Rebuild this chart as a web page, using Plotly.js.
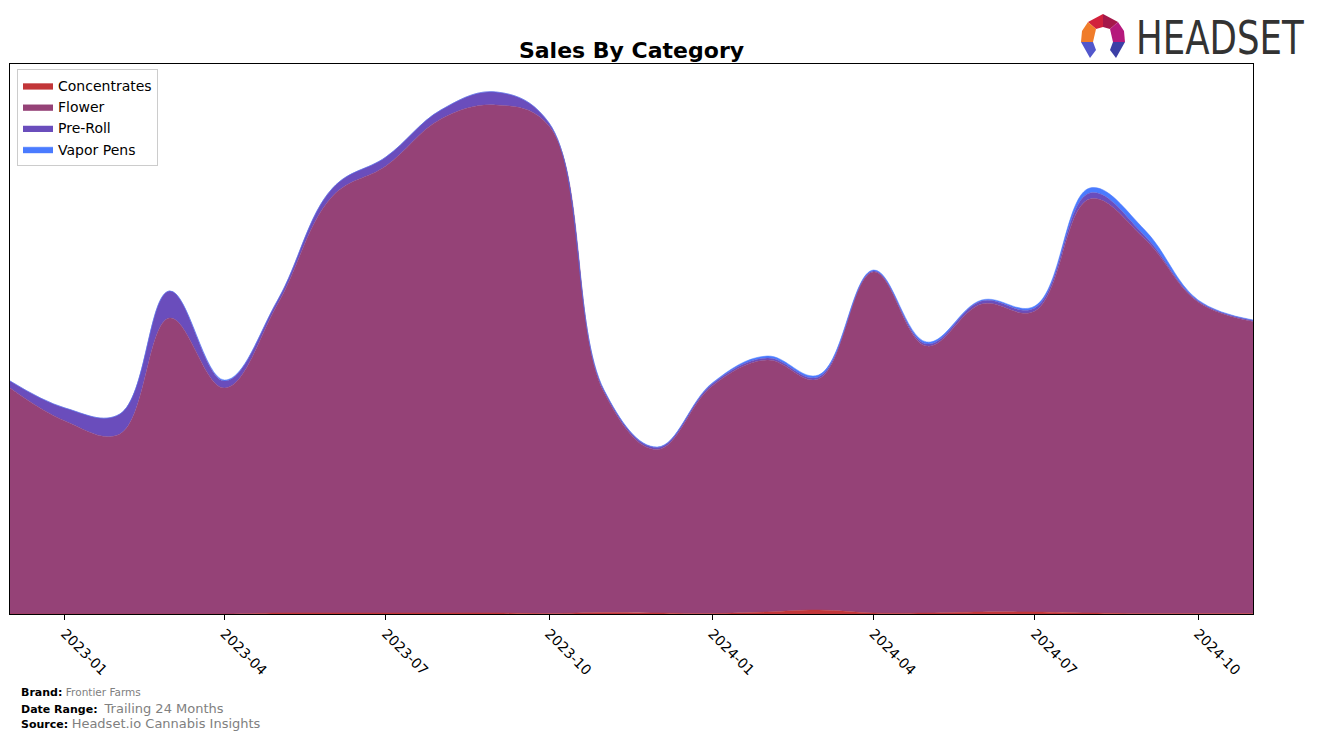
<!DOCTYPE html>
<html>
<head>
<meta charset="utf-8">
<script src="https://cdn.plot.ly/plotly-3.0.1.min.js"></script>
<style>html,body{margin:0;padding:0;background:#fff;}#chart{width:1317px;height:739px;}</style>
</head>
<body>
<div id="chart"></div>
<script>
// ---- data (monthly, arbitrary sales units) ----
const months = ['2022-12-01','2023-01-01','2023-02-01','2023-03-01','2023-04-01','2023-05-01','2023-06-01','2023-07-01','2023-08-01','2023-09-01','2023-10-01','2023-11-01','2023-12-01','2024-01-01','2024-02-01','2024-03-01','2024-04-01','2024-05-01','2024-06-01','2024-07-01','2024-08-01','2024-09-01','2024-10-01','2024-11-01'];
const concentrates = [0,0,0,0,0,1,1,1,1,1,0.5,1.5,1,0.5,2,4,1,1,2,2,1,0.5,0.5,0.5];
const flower = [226,193,180,296,226,309,417,447,494,508,487.5,220,163.5,227.5,252,231,341,267,308,301,414,374.5,311.5,292];
const preRoll = [7,13,20,27,7,4,8,9,9,13,3,2,2,2,2,2,1,2,3,3,6,3,1,1];
const vaporPens = [0,0,0,0,1,0,0,0,0,0,0,0.5,0.5,1,2,2,1,2,1,2,5,6,1,0.5];
const seriesNames = ['Concentrates','Flower','Pre-Roll','Vapor Pens'];
const tickLabels = ['2023-01','2023-04','2023-07','2023-10','2024-01','2024-04','2024-07','2024-10'];
const tickDates = ['2023-01-01','2023-04-01','2023-07-01','2023-10-01','2024-01-01','2024-04-01','2024-07-01','2024-10-01'];

const colors = ['#C23639','#954277','#6A4DBC','#4A7BFF'];
const seriesValues = [concentrates, flower, preRoll, vaporPens];

const traces = seriesValues.map((vals, i) => ({
  x: months, y: vals, name: seriesNames[i], type: 'scatter', mode: 'lines',
  stackgroup: 'one', fillcolor: colors[i],
  line: {color: colors[i], width: 0.5, shape: 'spline', smoothing: 1.1},
  hoverinfo: 'x+y+name'
}));

// helper for decorative logo placement (pixel -> paper)
const L = 10, R = 1253, T = 64, B = 614;
const px = x => (x - L) / (R - L);
const py = y => (B - y) / (B - T);
function poly(pts, color) {
  const d = pts.map((p, k) => (k ? 'L' : 'M') + px(p[0]).toFixed(5) + ',' + py(p[1]).toFixed(5)).join(' ') + ' Z';
  return {type: 'path', xref: 'paper', yref: 'paper', path: d, fillcolor: color, line: {width: 0}, layer: 'above'};
}
const shapes = [
  poly([[1088,22],[1103,14],[1103,27],[1096,29]], '#D2213C'),
  poly([[1103,14],[1118,22],[1110,29],[1103,27]], '#A5184A'),
  poly([[1088,22],[1096,29],[1093,42],[1081,42],[1082,31]], '#F07C2A'),
  poly([[1118,22],[1124,31],[1125,42],[1113,42],[1110,29]], '#B5197C'),
  poly([[1081,42],[1093,42],[1096,50],[1090,58]], '#5257CC'),
  poly([[1113,42],[1125,42],[1116,58],[1110,50]], '#3C3FA6')
];

const layout = {
  width: 1317, height: 739,
  margin: {l: L, r: 1317 - R, t: T, b: 739 - B, pad: 0},
  paper_bgcolor: '#fff', plot_bgcolor: '#fff',
  font: {family: 'DejaVu Sans', size: 13, color: '#000'},
  title: {text: '<b>Sales By Category</b>', x: 631.5 / 1317, xanchor: 'center', y: 1 - 50 / 739, yanchor: 'middle', font: {family: 'DejaVu Sans', size: 22, color: '#000'}},
  showlegend: true,
  legend: {x: px(17), y: py(69), xanchor: 'left', yanchor: 'top', bgcolor: 'rgba(255,255,255,0.9)', bordercolor: '#CCCCCC', borderwidth: 1, traceorder: 'normal', font: {family: 'DejaVu Sans', size: 14}},
  xaxis: {type: 'date', range: ['2022-12-01', '2024-11-01'], tickmode: 'array', tickvals: tickDates, ticktext: tickLabels, tickangle: 45,
    ticks: 'outside', ticklen: 5, tickcolor: '#000', showline: true, mirror: true, linecolor: '#000', linewidth: 1, showgrid: false, zeroline: false,
    tickfont: {family: 'DejaVu Sans', size: 14, color: '#000'}},
  yaxis: {range: [0, 550], showticklabels: false, ticks: '', showline: true, mirror: true, linecolor: '#000', linewidth: 1, showgrid: false, zeroline: false},
  shapes: shapes,
  annotations: [
    {xref: 'paper', yref: 'paper', x: px(19), y: py(692), xanchor: 'left', yanchor: 'middle', showarrow: false, align: 'left',
     text: '<b>Brand:</b> <span style="color:#808080;font-size:10.5px">Frontier Farms</span>', font: {family: 'DejaVu Sans', size: 11, color: '#000'}},
    {xref: 'paper', yref: 'paper', x: px(19), y: py(708), xanchor: 'left', yanchor: 'middle', showarrow: false, align: 'left',
     text: '<b>Date Range:</b>  <span style="color:#808080;font-size:13px">Trailing 24 Months</span>', font: {family: 'DejaVu Sans', size: 11, color: '#000'}},
    {xref: 'paper', yref: 'paper', x: px(19), y: py(723), xanchor: 'left', yanchor: 'middle', showarrow: false, align: 'left',
     text: '<b>Source:</b> <span style="color:#808080;font-size:13px">Headset.io Cannabis Insights</span>', font: {family: 'DejaVu Sans', size: 11, color: '#000'}},
    {xref: 'paper', yref: 'paper', x: px(1134), y: py(37), xanchor: 'left', yanchor: 'middle', showarrow: false,
     text: 'HEADSET', font: {family: 'DejaVu Sans', size: 47, color: '#333333'}}
  ]
};

Plotly.newPlot('chart', traces, layout, {displayModeBar: false, staticPlot: true}).then(() => {
  // condense the logo wordmark horizontally to match the narrow brand lettering
  const texts = document.querySelectorAll('.annotation-text');
  const logo = texts[texts.length - 1];
  if (logo) {
    const bb = logo.getBBox();
    const target = 168;
    const sx = target / bb.width;
    const x0 = bb.x;
    logo.setAttribute('transform', 'matrix(' + sx + ',0,0,1,' + ((1 - sx) * x0) + ',0)');
  }
});
</script>
</body>
</html>
